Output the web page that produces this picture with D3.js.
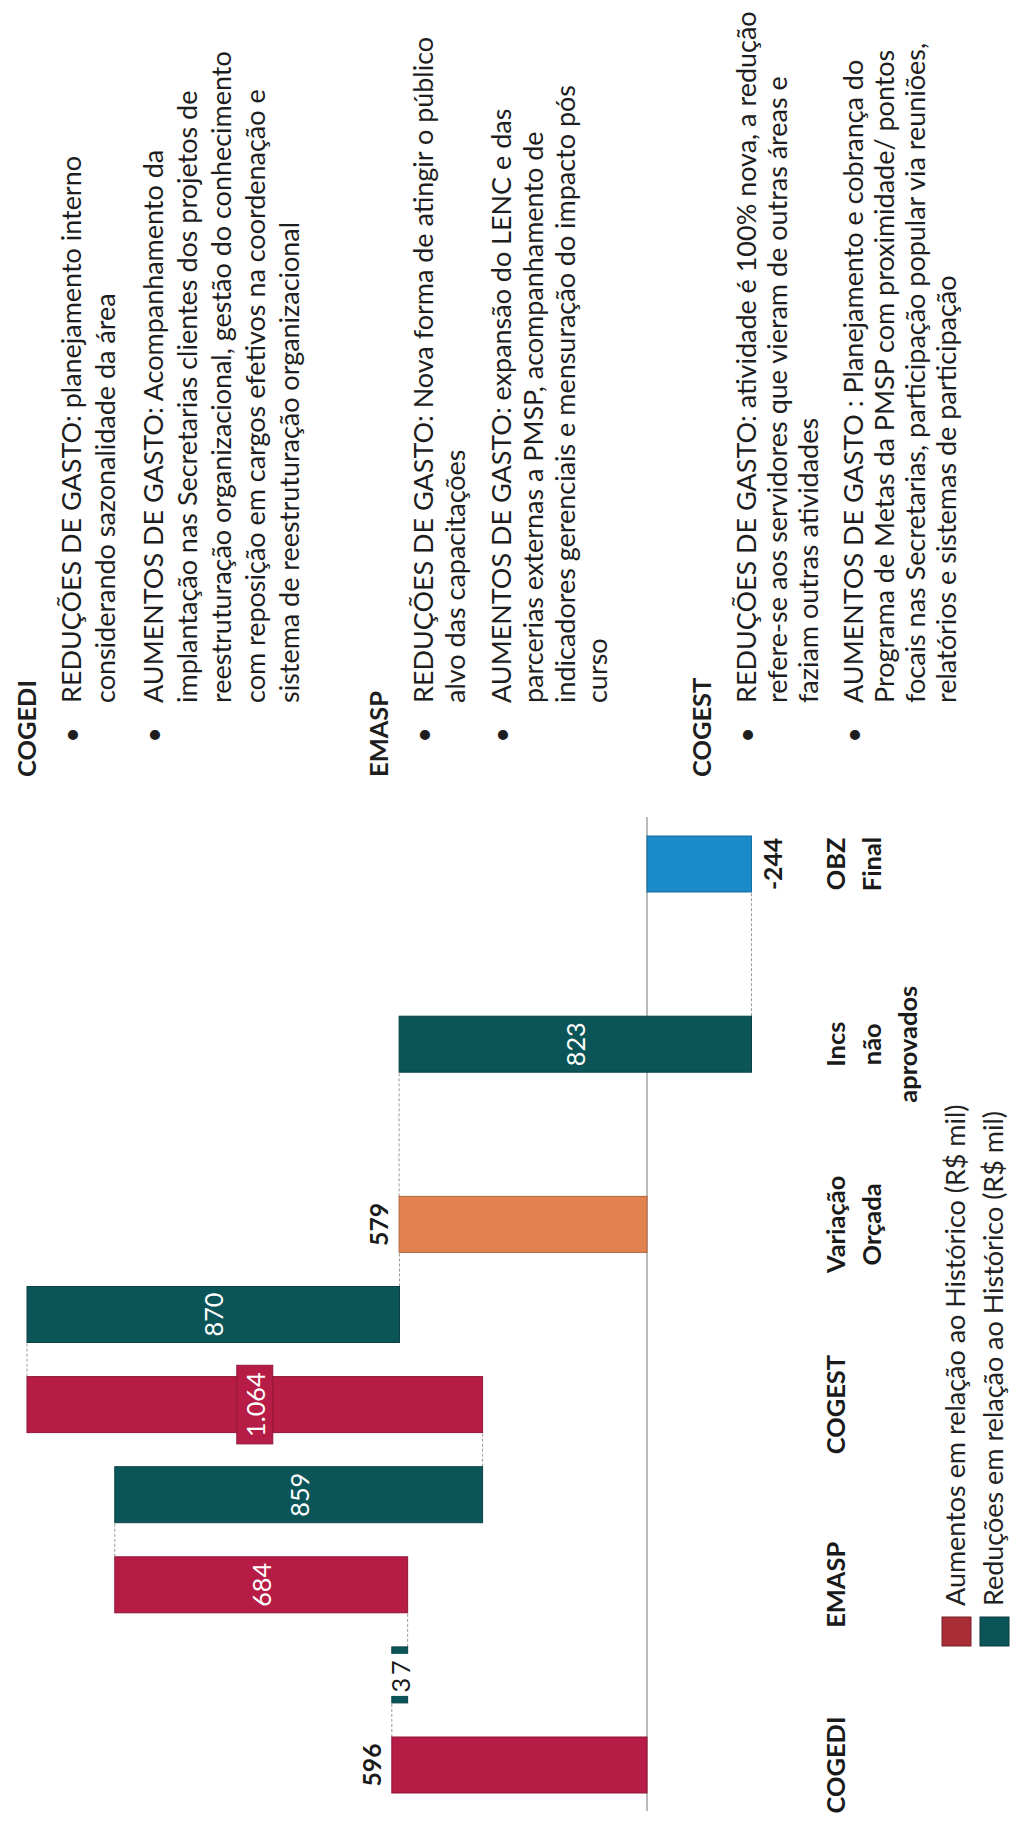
<!DOCTYPE html>
<html>
<head>
<meta charset="utf-8">
<script src="https://cdn.jsdelivr.net/npm/d3@7"></script>
<style>
  body { margin: 0; background: #fff; }
  svg { display: block; }
</style>
</head>
<body>
<div id="chart"></div>
<script>
// ---- data (R$ mil) ----
var categories = ["COGEDI", "EMASP", "COGEST", "Variação Orçada", "Incs não aprovados", "OBZ Final"];
var categoryLines = [["COGEDI"], ["EMASP"], ["COGEST"], ["Variação", "Orçada"], ["Incs", "não", "aprovados"], ["OBZ", "Final"]];
var areas = ["COGEDI", "EMASP", "COGEST"];
var increases = [596, 684, 1064];
var reductions = [37, 859, 870];
var budgetVariation = 579;
var notApproved = 823;
var finalOBZ = -244;
var legendLabels = ["Aumentos em relação ao Histórico (R$ mil)", "Reduções em relação ao Histórico (R$ mil)"];

var noteHeads = ["COGEDI", "EMASP", "COGEST"];
var noteBullets = [
  [["REDUÇÕES DE GASTO: planejamento interno", "considerando sazonalidade da área"],
   ["AUMENTOS DE GASTO: Acompanhamento da", "implantação nas Secretarias clientes dos projetos de",
    "reestruturação organizacional, gestão do conhecimento", "com reposição em cargos efetivos na coordenação e",
    "sistema de reestruturação organizacional"]],
  [["REDUÇÕES DE GASTO: Nova forma de atingir o público", "alvo das capacitações"],
   ["AUMENTOS DE GASTO: expansão do LENC e das", "parcerias externas a PMSP, acompanhamento de",
    "indicadores gerenciais e mensuração do impacto pós", "curso"]],
  [["REDUÇÕES DE GASTO: atividade é 100% nova, a redução", "refere-se aos servidores que vieram de outras áreas e",
    "faziam outras atividades"],
   ["AUMENTOS DE GASTO : Planejamento e cobrança do", "Programa de Metas da PMSP com proximidade/ pontos",
    "focais nas Secretarias, participação popular via reuniões,", "relatórios e sistemas de participação"]]
];

var W = 1013, H = 1821;
var FONT = "Lato, 'Open Sans', sans-serif";
var pt = d3.formatLocale({decimal: ",", thousands: ".", grouping: [3], currency: ["R$", ""], minus: "-"});
var fmt = pt.format(",d");

var svg = d3.select("#chart").append("svg")
    .attr("width", W)
    .attr("height", H);

// the slide is landscape and photographed turned a quarter turn
var slide = svg.append("g")
    .attr("transform", "translate(0," + H + ") rotate(-90)");

// measure text at 100px
function measure(str, weight) {
  var t = slide.append("text").attr("font-family", FONT).attr("font-weight", weight)
      .attr("font-size", 100).text(str);
  var len = t.node().getComputedTextLength();
  t.remove();
  return len;
}
function fitSize(str, weight, target) { return 100 * target / measure(str, weight); }

var longest = d3.max(noteBullets, function(b) {
  return d3.max(b, function(p) { return d3.max(p, function(l) { return measure(l, 400); }); });
});
var bodySize = 100 * 692 / longest;
var headSize = fitSize("COGEDI", 700, 97);
var numSize = fitSize("596", 700, 43);
var inSize = fitSize("684", 400, 44);

// ---- waterfall steps ----
var steps = [], run = 0;
areas.forEach(function(a, i) {
  steps.push({cat: a, mid: false, start: run, end: run + increases[i], value: increases[i], kind: "up"});
  run += increases[i];
  steps.push({cat: a, mid: true, start: run, end: run - reductions[i], value: reductions[i], kind: "down"});
  run -= reductions[i];
});
steps.push({cat: categories[3], mid: false, start: 0, end: budgetVariation, value: budgetVariation, kind: "total"});
steps.push({cat: categories[4], mid: false, start: budgetVariation, end: budgetVariation - notApproved, value: notApproved, kind: "down"});
steps.push({cat: categories[5], mid: false, start: 0, end: finalOBZ, value: finalOBZ, kind: "final"});

var colors = {up: "#B71C46", down: "#0B5558", total: "#E2824F", final: "#1B8AC8"};

var x = d3.scalePoint().domain(categories).range([56, 957]);
var y = d3.scaleLinear().domain([0, 1448]).range([647, 27]);
var bw = 56;
function pos(d) { return x(d.cat) + (d.mid ? x.step() / 2 : 0); }

var chart = slide.append("g");

// zero line
chart.append("line")
    .attr("x1", 10).attr("x2", 1004)
    .attr("y1", y(0)).attr("y2", y(0))
    .attr("stroke", "#a3a3a3").attr("stroke-width", 1.5);

// connectors
chart.selectAll(".conn")
  .data(steps.slice(0, -1))
  .enter().append("line")
    .attr("class", "conn")
    .attr("x1", function(d) { return pos(d) + bw / 2; })
    .attr("x2", function(d, i) { return pos(steps[i + 1]) - bw / 2; })
    .attr("y1", function(d) { return y(d.end); })
    .attr("y2", function(d) { return y(d.end); })
    .attr("stroke", "#9a9a9a").attr("stroke-width", 1)
    .attr("stroke-dasharray", "3,2");

chart.selectAll(".bar")
  .data(steps)
  .enter().append("rect")
    .attr("class", "bar")
    .attr("x", function(d) { return pos(d) - bw / 2; })
    .attr("y", function(d) { return y(Math.max(d.start, d.end)); })
    .attr("width", bw)
    .attr("height", function(d) { return Math.abs(y(d.start) - y(d.end)); })
    .attr("fill", function(d) { return colors[d.kind]; })
    .attr("stroke", function(d) { return d3.color(colors[d.kind]).darker(0.7); })
    .attr("stroke-width", 1);

// value labels
steps.forEach(function(d) {
  var label = fmt(d.value);
  var cx = pos(d);
  if (d.start === 0) {
    // bars that start at zero get their label beyond the end of the bar
    var ly = d.end >= 0 ? y(d.end) - 11 : y(d.end) + 13 + numSize * 0.72;
    chart.append("text")
        .attr("x", cx).attr("y", ly)
        .attr("text-anchor", "middle")
        .attr("font-family", FONT).attr("font-weight", 700)
        .attr("font-size", numSize).attr("fill", "#1a1a1a")
        .text(label);
    return;
  }
  var my = (y(d.start) + y(d.end)) / 2;
  var small = Math.abs(y(d.start) - y(d.end)) < 30;
  var t = chart.append("text")
      .attr("x", cx).attr("y", my)
      .attr("text-anchor", "middle").attr("dominant-baseline", "central")
      .attr("font-family", FONT).attr("font-size", inSize)
      .attr("letter-spacing", small ? 3 : 0)
      .attr("fill", small ? "#1a1a1a" : "#fff")
      .text(label);
  var len = t.node().getComputedTextLength();
  if (small || len > bw - 8) {
    var bx = small ? 42 : len + 14;
    var by = small ? Math.abs(y(d.start) - y(d.end)) + 4 : 36;
    chart.insert("rect", function() { return t.node(); })
        .attr("x", cx - bx / 2).attr("y", my - by / 2)
        .attr("width", bx).attr("height", by)
        .attr("fill", small ? "#fff" : colors[d.kind])
        .attr("stroke", small ? "none" : d3.color(colors[d.kind]).darker(0.7))
        .attr("stroke-width", 1);
  }
});

// category labels
var cat = chart.selectAll(".cat")
  .data(categories)
  .enter().append("text")
    .attr("class", "cat")
    .attr("text-anchor", "middle")
    .attr("font-family", FONT).attr("font-weight", 700)
    .attr("font-size", headSize).attr("fill", "#1a1a1a");
cat.selectAll("tspan")
  .data(function(d, i) { return categoryLines[i]; })
  .enter().append("tspan")
    .attr("x", function() { return x(d3.select(this.parentNode).datum()); })
    .attr("y", function(d, i) { return 845 + i * 36; })
    .text(function(d) { return d; });

// legend
var legendColors = ["#A82D37", "#0B5558"];
var leg = chart.selectAll(".leg")
  .data(legendLabels)
  .enter().append("g")
    .attr("class", "leg")
    .attr("transform", function(d, i) { return "translate(175," + (942 + i * 38) + ")"; });
leg.append("rect")
    .attr("width", 29).attr("height", 29)
    .attr("fill", function(d, i) { return legendColors[i]; })
    .attr("stroke", function(d, i) { return d3.color(legendColors[i]).darker(1); });
leg.append("text")
    .attr("x", 40).attr("y", 23)
    .attr("font-family", FONT).attr("font-size", bodySize).attr("fill", "#222")
    .text(function(d) { return d; });

// ---- notes on the right of the slide ----
var noteTop = [36, 388, 711];
var noteStep = [34, 32, 31];
var notesG = slide.append("g").attr("font-family", FONT).attr("fill", "#1e1e1e");
noteHeads.forEach(function(h, b) {
  notesG.append("text")
      .attr("x", 1044).attr("y", noteTop[b])
      .attr("font-weight", 700).attr("font-size", headSize)
      .text(h);
  var ly = noteTop[b] + 45;
  noteBullets[b].forEach(function(lines) {
    notesG.append("text")
        .attr("x", 1086).attr("y", ly)
        .attr("text-anchor", "middle")
        .attr("font-size", bodySize)
        .text("•");
    lines.forEach(function(line, k) {
      notesG.append("text")
          .attr("x", 1118).attr("y", ly + k * noteStep[b])
          .attr("font-size", bodySize)
          .text(line);
    });
    ly += lines.length * noteStep[b] + 14;
  });
});
</script>
</body>
</html>
